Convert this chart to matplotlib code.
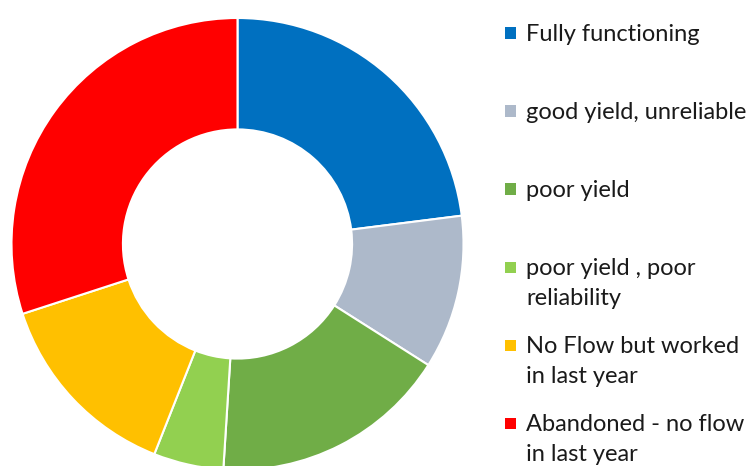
import matplotlib
matplotlib.use("Agg")
import matplotlib.pyplot as plt
from matplotlib.patches import Rectangle

# status of water points (share, %)
labels = ["Fully functioning", "good yield, unreliable", "poor yield",
          "poor yield , poor\nreliability", "No Flow but worked\nin last year",
          "Abandoned - no flow\nin last year"]
values = [23, 11, 17, 5, 14, 30]
colors = ["#0070C0", "#ADB9CA", "#70AD47", "#92D050", "#FFC000", "#FF0000"]

plt.rcParams['font.family'] = ['Lato', 'DejaVu Sans']

W, H = 756, 466
fig = plt.figure(figsize=(W / 100, H / 100), dpi=100)

# donut, centre at (237.5, 244) px from top, radius 226 px
cx, cy, R = 237.5, 244, 226
ax = fig.add_axes([(cx - R) / W, (H - cy - R) / H, 2 * R / W, 2 * R / H])
ax.pie(values, colors=colors, startangle=90, counterclock=False, radius=1,
       wedgeprops=dict(width=0.493, edgecolor="white", linewidth=1.5))
ax.set_xlim(-1, 1)
ax.set_ylim(-1, 1)
ax.axis("off")

# legend drawn by hand so the marker sits on the first text line
y0, step = 33, 78
for i, (lab, col) in enumerate(zip(labels, colors)):
    yc = y0 + i * step
    fig.patches.append(Rectangle(((505) / W, (H - yc - 5.5) / H), 11 / W, 11 / H,
                                 transform=fig.transFigure, facecolor=col,
                                 edgecolor="none"))
    fig.text(526 / W, (H - yc + 9) / H, lab, fontsize=17, va="top", ha="left",
             color="#1a1a1a", linespacing=1.55)

fig.savefig("out.png", dpi=100)
